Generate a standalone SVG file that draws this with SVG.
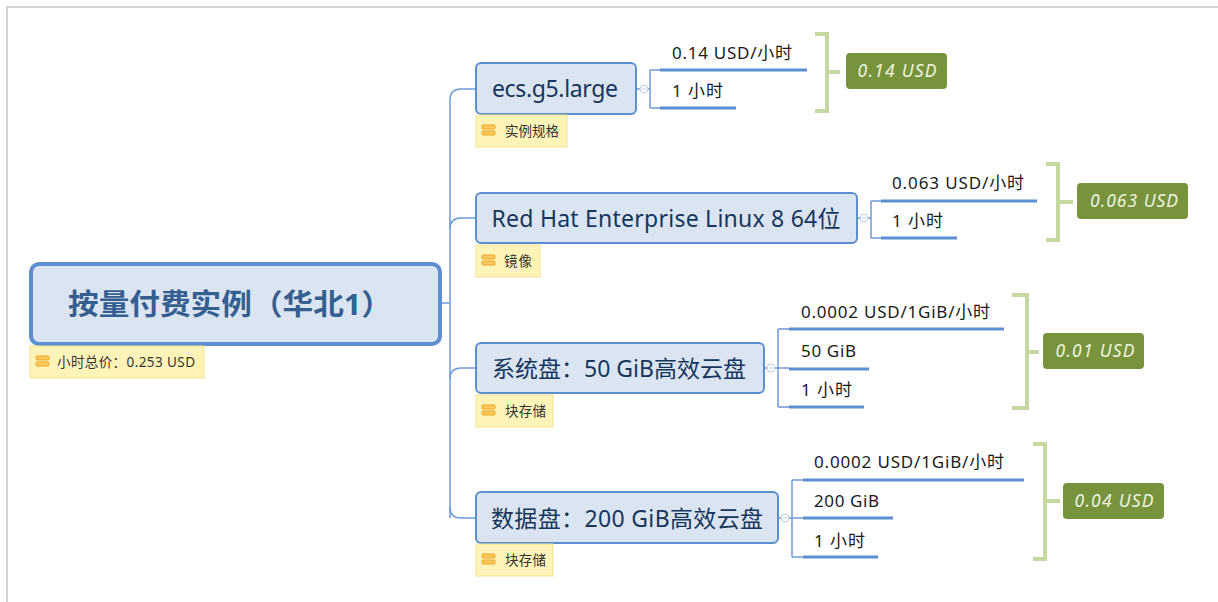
<svg xmlns="http://www.w3.org/2000/svg" width="1218" height="602" viewBox="0 0 1218 602">
<style>
.frame{fill:none;stroke:#c8c8c8;stroke-width:1.5}
.root{fill:#dbe5f1;stroke:#5b8fd0;stroke-width:4}
.topic{fill:#dbe5f1;stroke:#5b8fd0;stroke-width:2}
.note{fill:#fff4b8;stroke:#f5df8f;stroke-width:1}
.bar{fill:#fbc95a;stroke:#eaa52a;stroke-width:1}
.con{fill:none;stroke:#6f9bd6;stroke-width:1.5}
.ul{stroke:#5b8fd0;stroke-width:3}
.brk{fill:none;stroke:#c5d8a0;stroke-width:4}
.sum{fill:#77933c}
.col{fill:#fff;stroke:#b8cbe8;stroke-width:1}
.mn{stroke:#b8cbe8;stroke-width:1}
text{font-family:"Noto Sans","Noto Sans CJK SC",sans-serif}
.rt{font-size:29px;font-weight:bold;fill:#365f91}
.tt{font-size:23px;fill:#17365d}
.st{font-size:17px;fill:#1a1a1a}
.nt{font-size:13.5px;fill:#333}
.sm{font-size:17.5px;font-style:italic;fill:#eef3e2}
</style>
<path class="frame" d="M7,602 V7 H1218"/>
<g id="connectors">
<path class="con" d="M440,303 H450"/>
<path class="con" d="M450,518 V100 Q450,89 461,89 H476"/>
<path class="con" d="M450,229 Q450,218 461,218 H476"/>
<path class="con" d="M450,379 Q450,368 461,368 H476"/>
<path class="con" d="M450,507 Q450,518 461,518 H476"/>
<path class="con" d="M636,89 H650 M650,70 V108 M650,70 H660 M650,108 H660"/>
<path class="con" d="M857,218 H871 M871,201 V238 M871,201 H881 M871,238 H881"/>
<path class="con" d="M764,368 H778 M778,329 V407 M778,329 H789 M778,368 H789 M778,407 H789"/>
<path class="con" d="M778,518 H792 M792,480 V557 M792,480 H803 M792,518 H803 M792,557 H803"/>
</g>
<g id="root">
<rect class="root" x="31" y="264" width="409" height="80" rx="8"/>
<text class="rt" x="230" y="315" text-anchor="middle" textLength="324" lengthAdjust="spacingAndGlyphs">按量付费实例（华北1）</text>
<rect class="note" x="30" y="346" width="174" height="32"/>
<rect class="bar" x="36" y="356" width="13" height="4" rx="1"/>
<rect class="bar" x="36" y="362" width="13" height="4" rx="1"/>
<text class="nt" x="57" y="367" textLength="138">小时总价：0.253 USD</text>
</g>
<g id="t1">
<rect class="topic" x="476" y="63" width="160" height="51" rx="5"/>
<text class="tt" x="555" y="97" text-anchor="middle" textLength="126">ecs.g5.large</text>
<rect class="note" x="476" y="115" width="91" height="32"/>
<rect class="bar" x="482" y="125" width="13" height="4" rx="1"/>
<rect class="bar" x="482" y="131" width="13" height="4" rx="1"/>
<text class="nt" x="505" y="136" textLength="54">实例规格</text>
<circle class="col" cx="644" cy="89" r="4"/>
<line class="mn" x1="642" y1="89" x2="646" y2="89"/>
</g>
<g id="t1s">
<text class="st" x="672" y="59" textLength="120">0.14 USD/小时</text>
<line class="ul" x1="660" y1="70" x2="807" y2="70"/>
<text class="st" x="672" y="97" textLength="51">1 小时</text>
<line class="ul" x1="660" y1="108" x2="736" y2="108"/>
<path class="brk" d="M815,34 H827 V111 H815 M827,72 H840"/>
<rect class="sum" x="846" y="53" width="101" height="36" rx="4"/>
<text class="sm" x="897" y="77" text-anchor="middle" textLength="79">0.14 USD</text>
</g>
<g id="t2">
<rect class="topic" x="476" y="193" width="381" height="50" rx="5"/>
<text class="tt" x="666" y="227" text-anchor="middle" textLength="349">Red Hat Enterprise Linux 8 64位</text>
<rect class="note" x="476" y="245" width="64" height="32"/>
<rect class="bar" x="482" y="255" width="13" height="4" rx="1"/>
<rect class="bar" x="482" y="261" width="13" height="4" rx="1"/>
<text class="nt" x="504" y="266" textLength="28">镜像</text>
<circle class="col" cx="864" cy="218" r="4"/>
<line class="mn" x1="862" y1="218" x2="866" y2="218"/>
</g>
<g id="t2s">
<text class="st" x="892" y="189" textLength="132">0.063 USD/小时</text>
<line class="ul" x1="881" y1="201" x2="1037" y2="201"/>
<text class="st" x="892" y="227" textLength="51">1 小时</text>
<line class="ul" x1="881" y1="238" x2="957" y2="238"/>
<path class="brk" d="M1046,164 H1058 V240 H1046 M1058,202 H1073"/>
<rect class="sum" x="1077" y="183" width="111" height="36" rx="4"/>
<text class="sm" x="1134" y="207" text-anchor="middle" textLength="88">0.063 USD</text>
</g>
<g id="t3">
<rect class="topic" x="476" y="343" width="288" height="50" rx="5"/>
<text class="tt" x="619" y="377" text-anchor="middle" textLength="254">系统盘：50 GiB高效云盘</text>
<rect class="note" x="476" y="395" width="77" height="32"/>
<rect class="bar" x="482" y="405" width="13" height="4" rx="1"/>
<rect class="bar" x="482" y="411" width="13" height="4" rx="1"/>
<text class="nt" x="505" y="416" textLength="41">块存储</text>
<circle class="col" cx="771" cy="368" r="4"/>
<line class="mn" x1="769" y1="368" x2="773" y2="368"/>
</g>
<g id="t3s">
<text class="st" x="801" y="318" textLength="189">0.0002 USD/1GiB/小时</text>
<line class="ul" x1="789" y1="329" x2="1004" y2="329"/>
<text class="st" x="801" y="357" textLength="55">50 GiB</text>
<line class="ul" x1="789" y1="369" x2="869" y2="369"/>
<text class="st" x="801" y="396" textLength="51">1 小时</text>
<line class="ul" x1="789" y1="407" x2="864" y2="407"/>
<path class="brk" d="M1012,295 H1027 V408 H1012 M1027,352 H1039"/>
<rect class="sum" x="1043" y="333" width="101" height="36" rx="4"/>
<text class="sm" x="1095" y="357" text-anchor="middle" textLength="79">0.01 USD</text>
</g>
<g id="t4">
<rect class="topic" x="476" y="492" width="302" height="51" rx="5"/>
<text class="tt" x="627" y="527" text-anchor="middle" textLength="272">数据盘：200 GiB高效云盘</text>
<rect class="note" x="476" y="544" width="77" height="32"/>
<rect class="bar" x="482" y="554" width="13" height="4" rx="1"/>
<rect class="bar" x="482" y="560" width="13" height="4" rx="1"/>
<text class="nt" x="505" y="565" textLength="41">块存储</text>
<circle class="col" cx="785" cy="518" r="4"/>
<line class="mn" x1="783" y1="518" x2="787" y2="518"/>
</g>
<g id="t4s">
<text class="st" x="814" y="468" textLength="190">0.0002 USD/1GiB/小时</text>
<line class="ul" x1="803" y1="480" x2="1024" y2="480"/>
<text class="st" x="814" y="507" textLength="65">200 GiB</text>
<line class="ul" x1="803" y1="518" x2="893" y2="518"/>
<text class="st" x="814" y="547" textLength="51">1 小时</text>
<line class="ul" x1="803" y1="557" x2="878" y2="557"/>
<path class="brk" d="M1033,444 H1045 V559 H1033 M1045,501 H1060"/>
<rect class="sum" x="1063" y="483" width="101" height="36" rx="4"/>
<text class="sm" x="1114" y="507" text-anchor="middle" textLength="79">0.04 USD</text>
</g>
</svg>
